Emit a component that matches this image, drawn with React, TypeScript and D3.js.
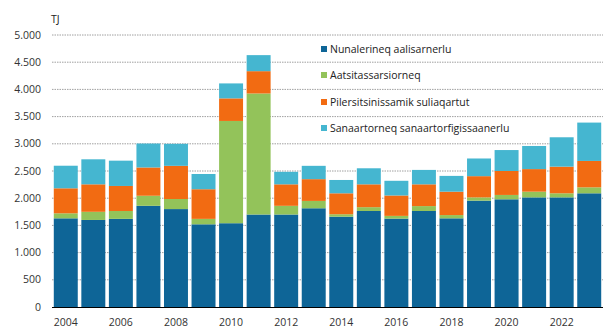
import React from "react";
import * as d3 from "d3";

const years = ["2004","2005","2006","2007","2008","2009","2010","2011","2012","2013","2014","2015","2016","2017","2018","2019","2020","2021","2022","2023"];
const nunalerineq = [1630,1600,1620,1860,1800,1520,1540,1700,1700,1815,1660,1765,1625,1765,1630,1955,1980,2015,2015,2090];
const aatsitassarsiorneq = [92,150,145,185,185,100,1880,2225,160,135,45,70,50,90,60,60,80,105,75,110];
const pilersitsinissamik = [460,505,460,520,610,545,415,410,395,400,385,420,375,400,430,390,440,415,490,485];
const sanaartorneq = [415,460,465,440,405,280,275,295,230,245,245,295,270,265,290,325,385,425,540,705];
const seriesNames = ["Nunalerineq aalisarnerlu","Aatsitassarsiorneq","Pilersitsinissamik suliaqartut","Sanaartorneq sanaartorfigissaanerlu"];
const colors = ["#0e6597","#93c35a","#f26b12","#45b6d0"];
const yTicks = [0,500,1000,1500,2000,2500,3000,3500,4000,4500,5000];
const xLabelYears = ["2004","2006","2008","2010","2012","2014","2016","2018","2020","2022"];

export default function App() {
  const W = 612, H = 335;
  const left = 52, right = 603, top = 35, bottom = 307;
  const x = d3.scaleBand().domain(years).range([left, right]).paddingInner(0.13).paddingOuter(0.065);
  const y = d3.scaleLinear().domain([0, 5000]).range([bottom, top]);
  const rows = years.map((yr, i) => ({
    year: yr,
    s0: nunalerineq[i], s1: aatsitassarsiorneq[i], s2: pilersitsinissamik[i], s3: sanaartorneq[i],
  }));
  const stack = d3.stack<any>().keys(["s0","s1","s2","s3"])(rows);
  const fmt = (v: number) => v === 0 ? "0" : d3.format(",")(v).replace(",", ".");
  const font = "'Open Sans', 'Noto Sans', sans-serif";
  return (
    <svg width={W} height={H} style={{ position: "absolute", left: 0, top: 0, background: "#fff" }} fontFamily={font}>
      {yTicks.filter(t => t > 0).map(t => (
        <line key={t} x1={left} x2={right} y1={y(t)} y2={y(t)} stroke="#a0a0a0" strokeWidth={1} strokeDasharray="1.5,1" />
      ))}
      {stack.map((layer, li) => (
        <g key={li} fill={colors[li]}>
          {layer.map((d: any, i: number) => (
            <rect key={i} x={x(years[i])} width={x.bandwidth()} y={y(d[1])} height={y(d[0]) - y(d[1])} />
          ))}
        </g>
      ))}
      <line x1={left} x2={right} y1={bottom + 0.5} y2={bottom + 0.5} stroke="#000" strokeWidth={1} />
      {yTicks.map(t => (
        <text key={t} x={41} y={y(t)} dy="0.35em" textAnchor="end" fontSize={10.5} fill="#333">{fmt(t)}</text>
      ))}
      <text x={51} y={23} fontSize={10.5} fill="#222">TJ</text>
      {xLabelYears.map(yr => (
        <text key={yr} x={(x(yr) as number) + x.bandwidth() / 2} y={326} textAnchor="middle" fontSize={10.5} fill="#333">{yr}</text>
      ))}
      {seriesNames.map((n, i) => {
        const cy = [49, 75, 102, 128][i];
        return (
          <g key={n}>
            <rect x={321} y={cy - 3} width={6} height={6} fill={colors[i]} />
            <text x={330} y={cy} dy="0.35em" fontSize={10.5} fill="#222">{n}</text>
          </g>
        );
      })}
    </svg>
  );
}
